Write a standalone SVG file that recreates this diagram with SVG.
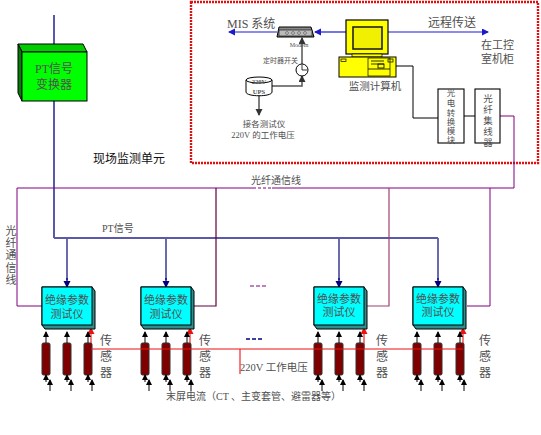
<svg xmlns="http://www.w3.org/2000/svg" xmlns:xlink="http://www.w3.org/1999/xlink" width="541" height="435" viewBox="0 0 541 435">
<style>
text{font-family:"Liberation Serif","Noto Sans CJK SC",serif;fill:#505050;font-size:11px}
.m{text-anchor:middle}
.w{fill:none}
.pu{stroke:#800080;stroke-width:1}
.pd{stroke:#600040;stroke-width:1.2}
.pp{stroke:#a04070;stroke-width:1.2}
.pt{stroke:#5a5aa8;stroke-width:1.8}
.nv{stroke:#000080;stroke-width:1.3}
.bl{stroke:#1a1acc;stroke-width:1.2}
.rd{stroke:#ee1111;stroke-width:1.1}
.bk{stroke:#000;stroke-width:1}
.gr{stroke:#555;stroke-width:1.5}
</style>
<defs>
<marker id="an" markerUnits="userSpaceOnUse" markerWidth="8" markerHeight="8" refX="6" refY="3.5" orient="auto"><path d="M0 0L7 3.5L0 7z" fill="#000080"/></marker>
<marker id="ab" markerUnits="userSpaceOnUse" markerWidth="8" markerHeight="8" refX="6" refY="3.5" orient="auto"><path d="M0 0L7 3.5L0 7z" fill="#1a1acc"/></marker>
<marker id="ar" markerUnits="userSpaceOnUse" markerWidth="8" markerHeight="8" refX="6" refY="3.5" orient="auto"><path d="M0 0L7 3.5L0 7z" fill="#ee1111"/></marker>
<marker id="ak" markerUnits="userSpaceOnUse" markerWidth="7" markerHeight="7" refX="5" refY="3" orient="auto"><path d="M0 0L6 3L0 6z" fill="#000"/></marker>
<marker id="ag" markerUnits="userSpaceOnUse" markerWidth="8" markerHeight="8" refX="6" refY="3.5" orient="auto"><path d="M0 0L7 3.5L0 7z" fill="#333"/></marker>
<g id="tester">
<path d="M0 0H50L53 4V42H3L0 38Z" fill="#2f8f8f" stroke="#000" stroke-width="1"/>
<rect x="0" y="0" width="50" height="38" fill="#00ffff" stroke="#000" stroke-width="1"/>
</g>
<g id="sensor">
<rect x="-4" y="0" width="8" height="32" rx="1.5" fill="#800000" stroke="#333" stroke-width="1"/>
<path class="w bk" d="M0 0V-11" marker-end="url(#ak)"/>
<path class="w bk" d="M0 39V32" marker-end="url(#ak)"/>
<path class="w bk" d="M4 48V37" marker-end="url(#ak)"/>
</g>
</defs>

<rect id="frame" x="191" y="2" width="347" height="161" fill="none" stroke="#e01010" stroke-width="2.4" stroke-dasharray="2 1"/>

<g id="connectors" fill="none">
<path class="w nv" d="M54 15V52" marker-end="url(#an)"/>
<path class="w nv" d="M54 101V238"/>
<path class="w pt" d="M54 238H438"/>
<path class="w pt" d="M67 238V280"/><path class="w nv" d="M67 278V287" marker-end="url(#an)"/>
<path class="w pt" d="M166 238V280"/><path class="w nv" d="M166 278V287" marker-end="url(#an)"/>
<path class="w pt" d="M339 238V280"/><path class="w nv" d="M339 278V287" marker-end="url(#an)"/>
<path class="w pt" d="M438 238V280"/><path class="w nv" d="M438 278V287" marker-end="url(#an)"/>
<path class="w pu" d="M514 116H500M514 116V188H17V306H42"/>
<path class="w pd" d="M216 188V306H191"/>
<path class="w pp" d="M389 188V306H365"/>
<path class="w pu" d="M490 188V306H467"/>
<path class="w" stroke="#fff" stroke-width="2" d="M253 188H272"/>
<path class="w pu" stroke-dasharray="3 2" d="M253 188H272"/>
<path class="w pu" stroke-dasharray="4 2" d="M250 286H268"/>
<path class="w nv" stroke-dasharray="4 2" d="M246 339H263"/>
<path class="w bl" d="M346 32H315" marker-end="url(#ab)"/>
<path class="w bl" d="M277 32H229" marker-end="url(#ab)"/>
<path class="w bl" d="M388 32H488" marker-end="url(#ab)"/>
<path class="w bk" d="M380 66H413V118H438"/>
<path class="w bk" d="M464 116H475"/>
<path class="w gr" d="M302 64V38" marker-end="url(#ag)"/>
<path class="w gr" d="M272 86H302V76" marker-end="url(#ag)"/>
<path class="w gr" d="M259 95V115" marker-end="url(#ag)"/>
<path class="w rd" d="M240 349V374"/>
<path class="w rd" d="M91 349V328" marker-end="url(#ar)"/>
<path class="w rd" d="M190 349V328" marker-end="url(#ar)"/>
<path class="w rd" d="M364 349V328" marker-end="url(#ar)"/>
<path class="w rd" d="M463 349V328" marker-end="url(#ar)"/>
</g>

<g id="pt-converter">
<path d="M18 44H83L87 52H22Z" fill="#00cc00" stroke="#000"/>
<path d="M18 44L22 52V101L18 93Z" fill="#008000" stroke="#000"/>
<rect x="22" y="52" width="65" height="49" fill="#00ff00" stroke="#000"/>
<text class="m" x="54" y="73" style="font-size:12px">PT信号</text>
<text class="m" x="54" y="89" style="font-size:12px">变换器</text>
</g>

<g id="modem">
<path d="M279 27H311L314 37H277Z" fill="#888" stroke="#000"/>
<rect x="279" y="30" width="33" height="6" fill="#bbb" stroke="#000" stroke-width=".6"/>
<circle cx="287" cy="33" r="1.3" fill="#fff" stroke="#000" stroke-width=".5"/><circle cx="293" cy="33" r="1.3" fill="#fff" stroke="#000" stroke-width=".5"/><circle cx="299" cy="33" r="1.3" fill="#fff" stroke="#000" stroke-width=".5"/><circle cx="305" cy="33" r="1.3" fill="#fff" stroke="#000" stroke-width=".5"/>
<text class="m" x="299" y="47" style="font-size:6px">Modem</text>
</g>

<g id="timer">
<circle cx="302" cy="70" r="6" fill="#fff" stroke="#000"/>
<path d="M302 65V70H307" fill="none" stroke="#000" stroke-width=".8"/>
<text x="263" y="63" style="font-size:7px">定时器开关</text>
</g>

<g id="ups">
<path d="M246 80V92C246 97 272 97 272 92V80Z" fill="#fff" stroke="#000"/>
<ellipse cx="259" cy="80" rx="13" ry="3" fill="#fff" stroke="#000"/>
<text class="m" x="259" y="84" style="font-size:6.5px;font-weight:bold">220V</text>
<text class="m" x="259" y="94" style="font-size:6.5px;font-weight:bold">UPS</text>
<text class="m" x="264" y="127" style="font-size:8.5px">接各测试仪</text>
<text class="m" x="263" y="138" style="font-size:8.5px">220V 的工作电压</text>
</g>

<g id="computer">
<rect x="346" y="20" width="42" height="34" fill="#ffff00" stroke="#000" stroke-width="1.2"/>
<rect x="353" y="27" width="29" height="22" fill="#f0f000" stroke="#222" stroke-width="1.6"/>
<path d="M352 54H382V57H352Z" fill="#ffff00" stroke="#000" stroke-width=".7"/>
<rect x="339" y="57" width="57" height="20" fill="#ffff00" stroke="#000"/>
<rect x="341" y="59" width="5" height="2.5" fill="none" stroke="#000" stroke-width=".7"/>
<rect x="388" y="59" width="5" height="3" fill="none" stroke="#000" stroke-width=".7"/>
<rect x="368" y="58" width="22" height="18" fill="none" stroke="#000" stroke-width=".7"/>
<path d="M371 61H384M371 64H384M368 69H390" stroke="#000" stroke-width=".8"/>
<rect x="378" y="64" width="6" height="4" fill="none" stroke="#000" stroke-width=".8"/>
<text class="m" x="375" y="90" style="font-size:10.5px">监测计算机</text>
</g>

<g id="converter-module">
<rect x="438" y="89" width="26" height="54" fill="#fff" stroke="#000" stroke-width="1.1"/>
<text class="m" x="451" y="96" style="font-size:8.5px">光</text>
<text class="m" x="451" y="106" style="font-size:8.5px">电</text>
<text class="m" x="451" y="116" style="font-size:8.5px">转</text>
<text class="m" x="451" y="125" style="font-size:8.5px">换</text>
<text class="m" x="451" y="134" style="font-size:8.5px">模</text>
<text class="m" x="451" y="143" style="font-size:8.5px">块</text>
</g>

<g id="fiber-hub">
<rect x="475" y="89" width="25" height="54" fill="#fff" stroke="#000" stroke-width="1.1"/>
<text class="m" x="488" y="102" style="font-size:9.5px">光</text>
<text class="m" x="488" y="113" style="font-size:9.5px">纤</text>
<text class="m" x="488" y="124" style="font-size:9.5px">集</text>
<text class="m" x="488" y="135" style="font-size:9.5px">线</text>
<text class="m" x="488" y="146" style="font-size:9.5px">器</text>
</g>

<g id="tester-1"><use xlink:href="#tester" href="#tester" x="42" y="287"/><text class="m" x="67" y="304">绝缘参数</text><text class="m" x="67" y="318">测试仪</text></g>
<g id="tester-2"><use xlink:href="#tester" href="#tester" x="141" y="287"/><text class="m" x="166" y="304">绝缘参数</text><text class="m" x="166" y="318">测试仪</text></g>
<g id="tester-3"><use xlink:href="#tester" href="#tester" x="314" y="287"/><text class="m" x="339" y="303">绝缘参数</text><text class="m" x="339" y="316">测试仪</text></g>
<g id="tester-4"><use xlink:href="#tester" href="#tester" x="413" y="287"/><text class="m" x="438" y="303">绝缘参数</text><text class="m" x="438" y="316">测试仪</text></g>

<g id="sensors">
<use xlink:href="#sensor" href="#sensor" x="46" y="343"/><use xlink:href="#sensor" href="#sensor" x="67" y="343"/><use xlink:href="#sensor" href="#sensor" x="88" y="343"/>
<use xlink:href="#sensor" href="#sensor" x="145" y="343"/><use xlink:href="#sensor" href="#sensor" x="166" y="343"/><use xlink:href="#sensor" href="#sensor" x="187" y="343"/>
<use xlink:href="#sensor" href="#sensor" x="318" y="343"/><use xlink:href="#sensor" href="#sensor" x="339" y="343"/><use xlink:href="#sensor" href="#sensor" x="360" y="343"/>
<use xlink:href="#sensor" href="#sensor" x="417" y="343"/><use xlink:href="#sensor" href="#sensor" x="438" y="343"/><use xlink:href="#sensor" href="#sensor" x="460" y="343"/>
</g>
<path class="w rd" d="M91 349H463"/>

<g id="labels">
<text x="227" y="28" style="font-size:12px">MIS 系统</text>
<text x="428" y="27" style="font-size:12px">远程传送</text>
<text x="481" y="49" style="font-size:11px">在工控</text>
<text x="481" y="63" style="font-size:11px">室机柜</text>
<text x="93" y="163" style="font-size:12px;fill:#111">现场监测单元</text>
<text x="251" y="184" style="font-size:10px">光纤通信线</text>
<text x="102" y="232" style="font-size:10px">PT信号</text>
<text class="m" x="11" y="235">光</text><text class="m" x="11" y="247">纤</text><text class="m" x="11" y="259">通</text><text class="m" x="11" y="272">信</text><text class="m" x="11" y="284">线</text>
<text class="m" x="106" y="345" style="font-size:12px">传</text><text class="m" x="106" y="361" style="font-size:12px">感</text><text class="m" x="106" y="377" style="font-size:12px">器</text>
<text class="m" x="205" y="345" style="font-size:12px">传</text><text class="m" x="205" y="361" style="font-size:12px">感</text><text class="m" x="205" y="377" style="font-size:12px">器</text>
<text class="m" x="382" y="345" style="font-size:12px">传</text><text class="m" x="382" y="361" style="font-size:12px">感</text><text class="m" x="382" y="377" style="font-size:12px">器</text>
<text class="m" x="485" y="345" style="font-size:12px">传</text><text class="m" x="485" y="361" style="font-size:12px">感</text><text class="m" x="485" y="377" style="font-size:12px">器</text>
<text x="240" y="371" style="font-size:10.5px">220V  工作电压</text>
<text x="166" y="400" style="font-size:10px">末屏电流（CT 、主变套管、避雷器等）</text>
</g>
</svg>
